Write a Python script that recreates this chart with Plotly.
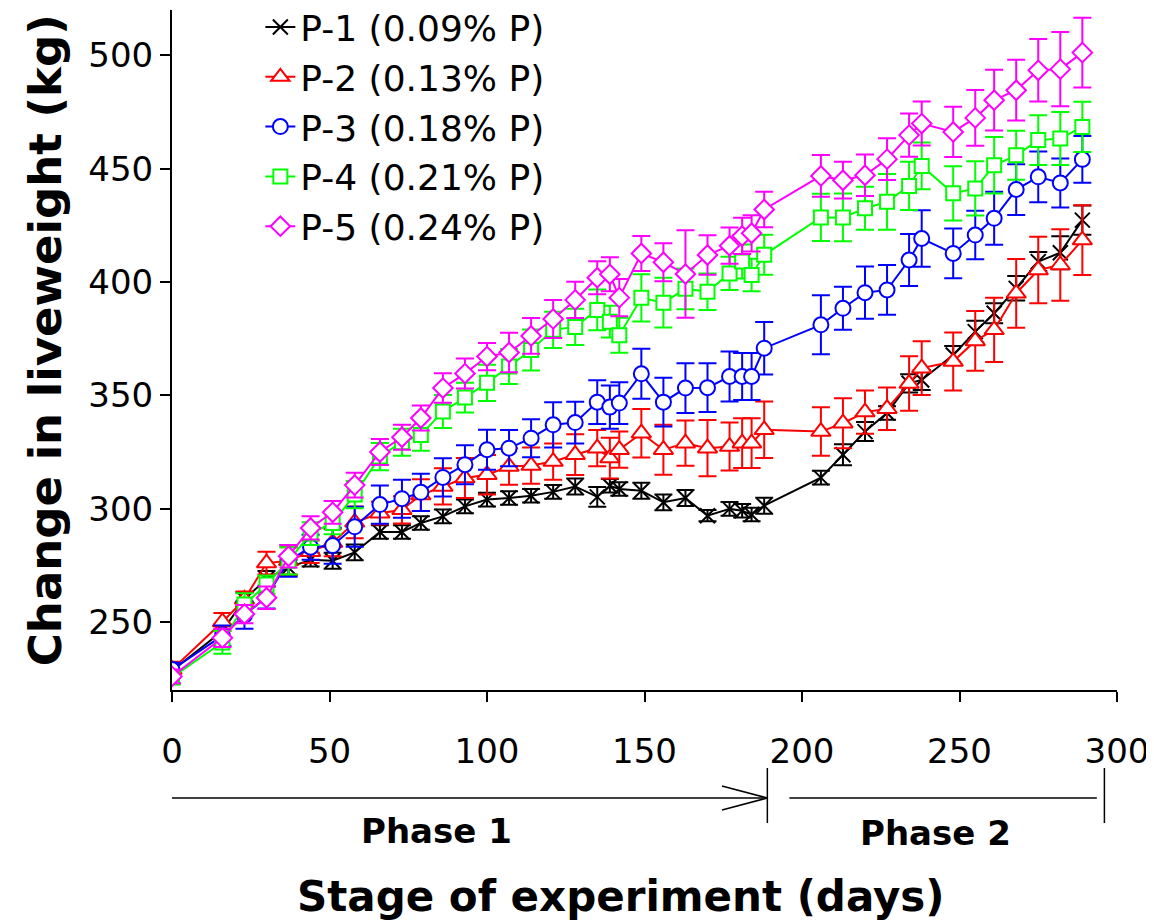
import plotly.graph_objects as go

days = [0, 16, 23, 30, 37, 44, 51, 58, 66, 73, 79, 86, 93, 100, 107, 114, 121, 128,
        135, 139, 142, 149, 156, 163, 170, 177, 181, 184, 188, 206, 213, 220, 227,
        234, 238, 248, 255, 261, 268, 275, 282, 289]

p1 = [228.5, 246, 260, 269, 274, 277.5, 277, 280.7, 289.7, 289.7, 293.7, 296.6, 301, 304,
      304.7, 305.7, 307.4, 309.8, 305.2, 310.1, 308.7, 307.9, 302.8, 304.7, 296.9, 299.9,
      299.1, 297.4, 301.3, 313.7, 323.8, 334, 342.2, 355.3, 356.8, 367.8, 378.1, 386.2,
      397.2, 409, 412.9, 427.3]
p1_err = [3, 3, 3, 3.5, 3.5, 3, 3.5, 3.5, 3, 3, 3, 3, 3, 3, 3, 3, 3, 3.5, 4.4, 3, 3, 3.5,
          3.5, 3.5, 2.5, 3, 3, 3, 3.5, 3, 4.6, 4.2, 3, 4, 4.4, 4, 4.8, 4.4, 5.4, 4.2, 7.3, 6.4]

p2 = [229, 250, 260, 276, 277, 281, 285, 294, 298, 299.5, 306, 309.8, 313.5, 315, 318.6,
      319, 320.8, 323.8, 326.7, 322.3, 326, 333.3, 326, 328.9, 326.7, 327.4, 328.9, 328.9,
      334.8, 334, 337.7, 342.6, 344.1, 355.2, 362, 364.9, 374, 378.9, 395, 405.3, 407.5,
      418.5]
p2_err = [3.5, 4, 3.5, 5, 6, 5, 6, 7, 5, 6, 7, 8, 8.8, 8.7, 8, 8, 8, 9, 8, 9, 8, 10.7, 11,
          10, 12.4, 10.6, 11, 11, 12.5, 10.7, 11, 9.5, 9.4, 12, 11.9, 12.8, 13.2, 14.2,
          15.2, 14.7, 15.8, 15.4]

p3 = [229, 244, 253, 261, 277, 283, 283.7, 292, 301.8, 304.4, 307.2, 313.8, 319.4, 326,
      326.7, 331.1, 337, 338, 347, 344.8, 346.6, 359.5, 347, 353.2, 353.4, 358.3, 358.3,
      358.3, 370.8, 381.1, 388.4, 395.3, 396.5, 409.7, 419.2, 412.6, 420.7, 428.1, 440.8,
      446.4, 443.7, 454.1]
p3_err = [3, 4.5, 6, 5, 7, 5.5, 8, 8.8, 8.4, 8.4, 8.2, 8.4, 8.6, 8.8, 8, 8.4, 10, 9.2, 9.7,
          9.5, 9.2, 11, 10.8, 11, 10.7, 11, 10.4, 10.4, 11.6, 13, 9.5, 11.5, 11, 11.5, 12.5,
          11, 10.7, 11.7, 11.2, 11.2, 10.8, 10.3]

p4 = [225.5, 241, 257.7, 266.5, 277, 289, 293.7, 306.2, 323, 329.3, 332.5, 342.9, 349,
      355.5, 362.7, 370, 378.9, 380.2, 387.7, 382.5, 376.5, 393, 390.9, 397, 395.7, 403.8,
      409, 403.1, 412, 428.5, 428.5, 432.5, 435.4, 442.4, 451.2, 439.1, 441.3, 451.5,
      455.9, 462.6, 463.3, 468.4]
p4_err = [3, 5, 5, 4, 6, 5, 5, 6, 6, 6, 7, 7.3, 6.6, 8, 7.7, 9, 8, 8, 9, 7, 7.7, 10.4, 11,
          9, 8, 7.3, 7.5, 7.2, 8.8, 10.4, 10.5, 9.5, 12.3, 10.6, 10.3, 12, 12, 12.5, 10.8,
          11, 11.7, 11.1]

p5 = [226, 243, 253.5, 260.7, 279, 291.5, 298.4, 310.4, 325, 331.5, 340, 353.2, 359.6,
      367.1, 368.9, 376.2, 383.7, 392.1, 401.9, 403.4, 393.1, 412.6, 408.7, 403.5, 411.9,
      416, 420.3, 421.5, 432, 446.8, 444.9, 447.1, 454.2, 464.8, 469.9, 466.2, 472.4,
      480.2, 484.6, 493.4, 493.9, 501.2]
p5_err = [3, 4, 4, 5, 5, 5.1, 5, 5.5, 5.7, 5.5, 5.5, 6.5, 6.6, 6, 8.7, 7.9, 8.4, 8, 7.3,
          7.5, 8.2, 7.7, 8.4, 19.3, 8.7, 8, 8, 8, 7.8, 9.2, 8.1, 9.2, 9.2, 9.5, 9.7, 11.1,
          12.3, 13.4, 13.4, 13.8, 16.4, 15.4]

names = ["P-1 (0.09% P)", "P-2 (0.13% P)", "P-3 (0.18% P)", "P-4 (0.21% P)", "P-5 (0.24% P)"]
series = [p1, p2, p3, p4, p5]
errors = [p1_err, p2_err, p3_err, p4_err, p5_err]
colors = ["#000000", "#FF0000", "#0000FF", "#00FF00", "#FF00FF"]
symbols = ["x-thin", "triangle-up", "circle", "square", "diamond"]
sizes = [15, 17, 15, 14, 15]

FONT = "DejaVu Sans"

fig = go.Figure()
for i in range(5):
    fig.add_trace(go.Scatter(
        x=days, y=series[i], name=names[i], mode="lines+markers",
        legendgroup=f"g{i}",
        line=dict(color=colors[i], width=2),
        marker=dict(symbol=symbols[i], size=sizes[i], color="white",
                    line=dict(color=colors[i], width=2)),
        error_y=dict(type="data", array=errors[i], visible=True,
                     color=colors[i], thickness=2, width=9),
    ))

# Phase annotations below the axis
line_style = dict(color="black", width=1.5)
shapes = [
    dict(type="line", xref="x", yref="paper", x0=0, x1=189, y0=-0.1588, y1=-0.1588, line=line_style),
    dict(type="line", xref="x", yref="paper", x0=174.6, x1=189, y0=-0.1412, y1=-0.1588, line=line_style),
    dict(type="line", xref="x", yref="paper", x0=174.6, x1=189, y0=-0.1765, y1=-0.1588, line=line_style),
    dict(type="line", xref="x", yref="paper", x0=189, x1=189, y0=-0.1147, y1=-0.1956, line=line_style),
    dict(type="line", xref="x", yref="paper", x0=196, x1=293.6, y0=-0.1588, y1=-0.1588, line=line_style),
    dict(type="line", xref="x", yref="paper", x0=296, x1=296, y0=-0.1147, y1=-0.1956, line=line_style),
]

annotations = [
    dict(text="<b>Phase 1</b>", xref="x", yref="paper", x=84, y=-0.2074, showarrow=False,
         font=dict(family=FONT, size=34, color="black"), xanchor="center", yanchor="middle"),
    dict(text="<b>Phase 2</b>", xref="x", yref="paper", x=242.4, y=-0.2103, showarrow=False,
         font=dict(family=FONT, size=34, color="black"), xanchor="center", yanchor="middle"),
    dict(text="<b>Stage of experiment (days)</b>", xref="paper", yref="paper", x=0.475, y=-0.303,
         showarrow=False, font=dict(family=FONT, size=42, color="black"),
         xanchor="center", yanchor="middle"),
    dict(text="<b>Change in liveweight (kg)</b>", xref="paper", yref="paper", x=-0.134, y=0.515,
         showarrow=False, textangle=-90, font=dict(family=FONT, size=45, color="black"),
         xanchor="center", yanchor="middle"),
]

fig.update_layout(
    width=1146, height=914,
    margin=dict(l=164, r=37, t=2, b=232, autoexpand=False),
    paper_bgcolor="white", plot_bgcolor="white",
    font=dict(family=FONT, color="black"),
    showlegend=True,
    legend=dict(x=0.0935, y=1.019, xanchor="left", yanchor="top",
                font=dict(family=FONT, size=36, color="black"),
                bgcolor="rgba(0,0,0,0)", traceorder="grouped", tracegroupgap=0),
    shapes=shapes,
    annotations=annotations,
    xaxis=dict(range=[0, 300], tickvals=[0, 50, 100, 150, 200, 250, 300],
               showgrid=False, zeroline=False, showline=True, linecolor="black",
               linewidth=2, ticks="outside", ticklen=10, tickwidth=2, tickcolor="black",
               tickfont=dict(family=FONT, size=34, color="black"), ticklabelstandoff=20),
    yaxis=dict(range=[220, 520], tickvals=[250, 300, 350, 400, 450, 500],
               showgrid=False, zeroline=False, showline=True, linecolor="black",
               linewidth=2, ticks="outside", ticklen=10, tickwidth=2, tickcolor="black",
               tickfont=dict(family=FONT, size=34, color="black")),
)

fig.write_html("out.html")
